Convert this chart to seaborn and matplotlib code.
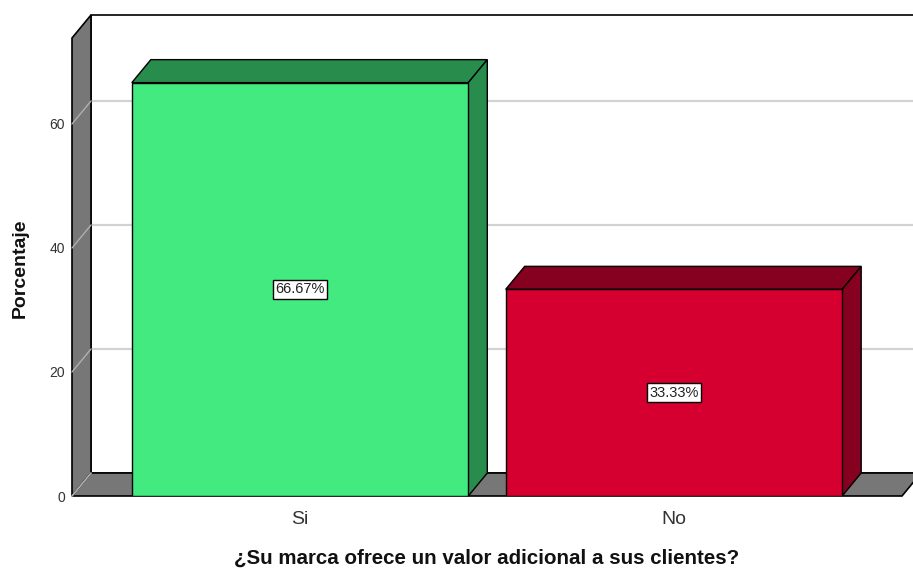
import matplotlib
matplotlib.use("Agg")
import matplotlib.pyplot as plt
from matplotlib.patches import Polygon
import pandas as pd
import seaborn as sns

# ── Data ──
categories = ["Si", "No"]
percentages = [66.67, 33.33]
bar_labels = ["66.67%", "33.33%"]
face_colors = ["#42EA80", "#D50030"]
side_colors = ["#278C4C", "#860020"]
y_ticks = [0, 20, 40, 60]

sns.set_style("white")
plt.rcParams["font.family"] = ["Liberation Sans", "DejaVu Sans"]

df = pd.DataFrame({"respuesta": categories, "porcentaje": percentages})

W, H = 913, 570
fig = plt.figure(figsize=(W / 100, H / 100), dpi=100)
ax = fig.add_axes([72 / W, 74 / H, 830 / W, 458 / H])
xmin, xmax, ymax = -0.61, 1.61, 73.87
ax.set_xlim(xmin, xmax)
ax.set_ylim(0, ymax)
ax.patch.set_visible(False)
for s in ax.spines.values():
    s.set_visible(False)

# depth offset (pixels) -> data units
DX, DY = 19, 23
ddx = DX / (830 / (xmax - xmin))
ddy = DY / (458 / ymax)

gray = "#777777"
# back wall
ax.add_patch(Polygon([(xmin + ddx, ddy), (xmin + ddx, ymax + ddy),
                      (xmax + ddx, ymax + ddy), (xmax + ddx, ddy)],
                     closed=True, facecolor="white", edgecolor="black",
                     lw=1.2, clip_on=False, zorder=0))
# grid lines on back wall
for t in y_ticks[1:]:
    ax.plot([xmin + ddx, xmax + ddx], [t + ddy, t + ddy], color="#d2d2d2",
            lw=1.6, clip_on=False, zorder=1)
# left wall
ax.add_patch(Polygon([(xmin, 0), (xmin, ymax), (xmin + ddx, ymax + ddy),
                      (xmin + ddx, ddy)], closed=True, facecolor=gray,
                     edgecolor="black", lw=1.2, clip_on=False, zorder=2))
for t in y_ticks:
    ax.plot([xmin, xmin + ddx], [t, t + ddy], color="#b0b0b0", lw=1,
            clip_on=False, zorder=2.5)
# floor
ax.add_patch(Polygon([(xmin, 0), (xmax, 0), (xmax + ddx, ddy),
                      (xmin + ddx, ddy)], closed=True, facecolor=gray,
                     edgecolor="black", lw=1.2, clip_on=False, zorder=2))
ax.plot([xmin, xmin + ddx], [0, ddy], color="#b0b0b0", lw=1,
        clip_on=False, zorder=2.6)

# bars (front faces)
sns.barplot(data=df, x="respuesta", y="porcentaje", hue="respuesta",
            palette=face_colors, saturation=1, width=0.9, edgecolor="black",
            linewidth=1, legend=False, ax=ax, zorder=5)
bars = list(ax.patches)[-len(categories):]
for bar, side, lab in zip(bars, side_colors, bar_labels):
    x0, w, h = bar.get_x(), bar.get_width(), bar.get_height()
    x1 = x0 + w
    ax.add_patch(Polygon([(x0, h), (x1, h), (x1 + ddx, h + ddy),
                          (x0 + ddx, h + ddy)], closed=True, facecolor=side,
                         edgecolor="black", lw=1, clip_on=False, zorder=4))
    ax.add_patch(Polygon([(x1, 0), (x1, h), (x1 + ddx, h + ddy),
                          (x1 + ddx, ddy)], closed=True, facecolor=side,
                         edgecolor="black", lw=1, clip_on=False, zorder=4))
    ax.text(x0 + w / 2, h / 2, lab, ha="center", va="center", fontsize=10.5,
            color="#222222", zorder=6,
            bbox=dict(boxstyle="square,pad=0.15", facecolor="white",
                      edgecolor="black", lw=1))

ax.set_xlim(xmin, xmax)
ax.set_ylim(0, ymax)
ax.set_yticks(y_ticks)
ax.set_xticks(range(len(categories)))
ax.set_xticklabels(categories, fontsize=14, color="#333333")
ax.tick_params(axis="x", length=0, pad=11)
ax.tick_params(axis="y", length=0, pad=5, labelsize=10, labelcolor="#333333")
ax.set_xlabel("")
ax.set_ylabel("")

fig.text(20 / W, 1 - 268 / H, "Porcentaje", rotation=90, ha="center",
         va="center", fontsize=14, fontweight="bold", color="#111111")
fig.text(487 / W, 1 - 558 / H,
         "¿Su marca ofrece un valor adicional a sus clientes?", ha="center",
         va="center", fontsize=14.8, fontweight="bold", color="#111111")

fig.savefig("out.png", dpi=100)
